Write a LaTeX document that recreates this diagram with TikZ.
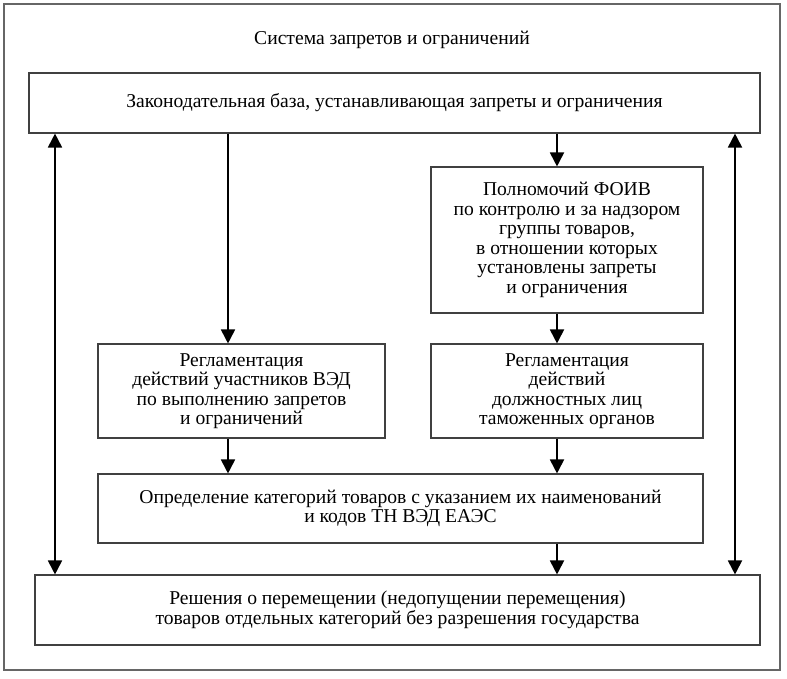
\documentclass[tikz,border=0pt]{standalone}
\usepackage{fontspec}
\setmainfont{Liberation Serif}
\usetikzlibrary{arrows.meta}
\begin{document}
\begin{tikzpicture}[x=1pt,y=-1pt,
  box/.style={draw=black!75,line width=1.1pt,rectangle,inner sep=0pt,align=center,
    font=\fontsize{19.6}{19.5}\selectfont},
  arr/.style={line width=1.8pt,-{Triangle[width=14pt,length=14pt]}},
  darr/.style={line width=1.8pt,{Triangle[width=14pt,length=14pt]}-{Triangle[width=14pt,length=14pt]}}]
\useasboundingbox (0,0) rectangle (787,678);
\draw[black!60,line width=1.1pt] (4,4) rectangle (780,670);
\node[font=\fontsize{19.6}{19.5}\selectfont] (title) at (392,40) {Система запретов и ограничений};
\node[box,minimum width=731pt,minimum height=60pt] (top) at (394.5,103)
  {Законодательная база, устанавливающая запреты и ограничения};
\node[box,minimum width=272pt,minimum height=146pt] (foiv) at (567,240)
  {Полномочий ФОИВ\\по контролю и за надзором\\группы товаров,\\в отношении которых\\установлены запреты\\и ограничения};
\node[box,minimum width=287pt,minimum height=94pt] (lreg) at (241.5,391)
  {Регламентация\\действий участников ВЭД\\по выполнению запретов\\и ограничений};
\node[box,minimum width=272pt,minimum height=94pt] (rreg) at (567,391)
  {Регламентация\\действий\\должностных лиц\\таможенных органов};
\node[box,minimum width=605pt,minimum height=69pt] (cat) at (400.5,508.5)
  {Определение категорий товаров с указанием их наименований\\и кодов ТН ВЭД ЕАЭС};
\node[box,minimum width=725pt,minimum height=70pt] (bot) at (397.5,610)
  {Решения о перемещении (недопущении перемещения)\\товаров отдельных категорий без разрешения государства};
\coordinate (xa) at (228,0);
\coordinate (xb) at (557,0);
\coordinate (xl) at (55,0);
\coordinate (xr) at (735,0);
\draw[arr] (top.south -| xa) -- (lreg.north -| xa);
\draw[arr] (top.south -| xb) -- (foiv.north -| xb);
\draw[arr] (foiv.south -| xb) -- (rreg.north -| xb);
\draw[arr] (lreg.south -| xa) -- (cat.north -| xa);
\draw[arr] (rreg.south -| xb) -- (cat.north -| xb);
\draw[arr] (cat.south -| xb) -- (bot.north -| xb);
\draw[darr] (top.south -| xl) -- (bot.north -| xl);
\draw[darr] (top.south -| xr) -- (bot.north -| xr);
\end{tikzpicture}
\end{document}
